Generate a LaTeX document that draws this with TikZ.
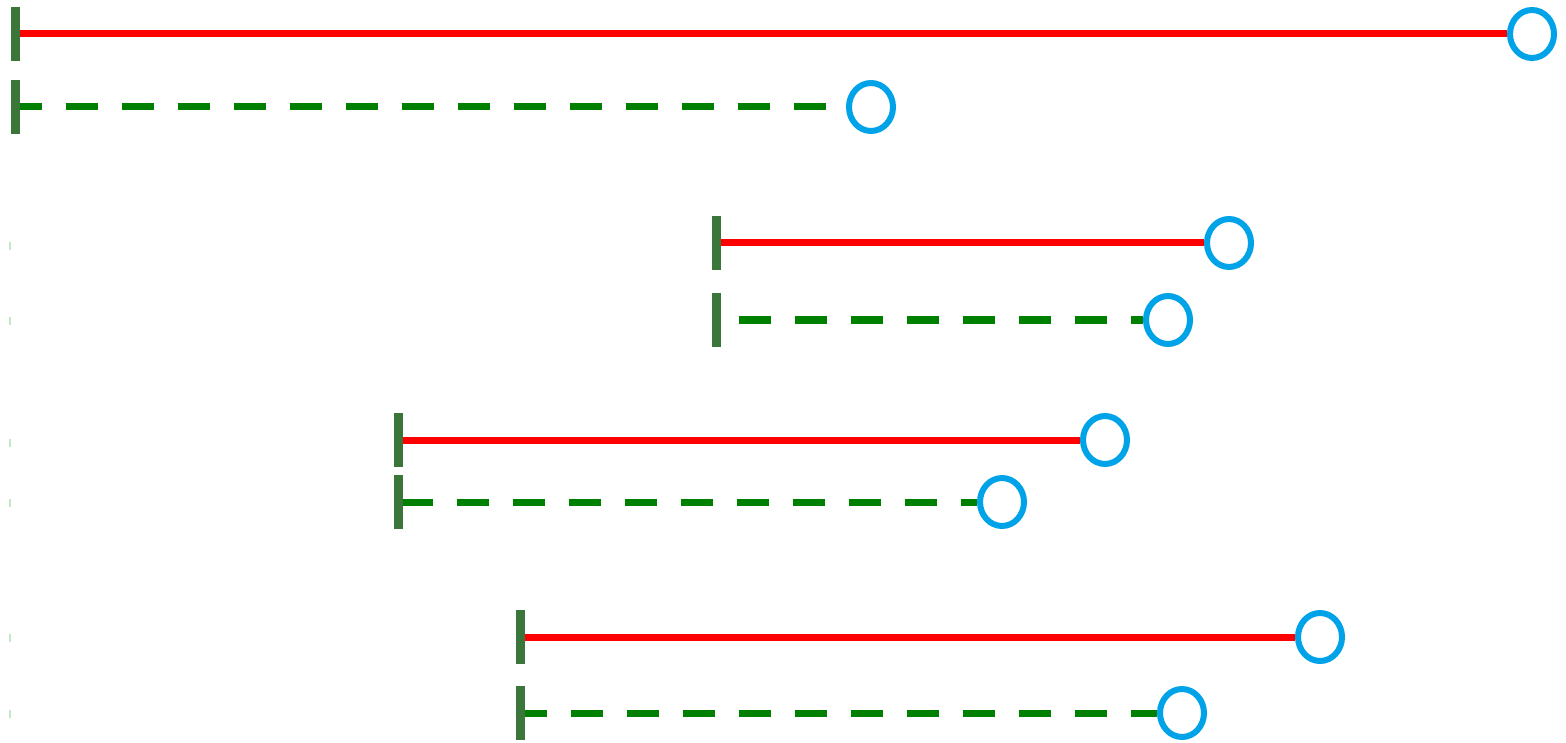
\documentclass[tikz,border=0pt]{standalone}
\usetikzlibrary{shapes.geometric}
\definecolor{barGreen}{RGB}{58,118,58}
\definecolor{ringBlue}{RGB}{0,162,232}
\definecolor{dashGreen}{RGB}{0,128,0}
\definecolor{tickGreen}{RGB}{196,232,196}
\begin{document}
\begin{tikzpicture}[x=1pt,y=-1pt]
\useasboundingbox (0,0) rectangle (1566,743);

\begin{scope}[every node/.style={rectangle,fill=barGreen,inner sep=0pt,minimum width=9pt,minimum height=54pt}]
	\node (s1) at (15, 34) {};
	\node (s2) at (15, 107) {};

	\node (s3) at (716, 243) {};
	\node (s4) at (716, 320) {};

	\node (s5) at (398, 440) {};
	\node (s6) at (398, 502) {};

	\node (s7) at (520, 637) {};
	\node (s8) at (520, 713) {};
\end{scope}

\begin{scope}[every node/.style={rectangle,fill=tickGreen,inner sep=0pt,minimum width=2pt,minimum height=8pt}]
	\node (t3) at (10, 246) {};
	\node (t4) at (10, 321) {};
	\node (t5) at (10, 443) {};
	\node (t6) at (10, 503) {};
	\node (t7) at (10, 638) {};
	\node (t8) at (10, 714) {};
\end{scope}

\begin{scope}[every node/.style={ellipse,draw=ringBlue,line width=6pt,inner sep=0pt,minimum width=44pt,minimum height=48pt}]
	\node (e1) at (1532, 34) {};
	\node (e2) at (871, 107) {};

	\node (e3) at (1229, 243) {};
	\node (e4) at (1168, 320) {};

	\node (e5) at (1105, 440) {};
	\node (e6) at (1002, 502) {};

	\node (e7) at (1320, 637) {};
	\node (e8) at (1182, 713) {};
\end{scope}

\begin{scope}[style={line width=7pt},dash pattern=on 32pt off 24pt]
	\path [red,solid] (s1) edge node {} (e1);
	\path [dashGreen,dash phase=10pt] (s2) edge node {} (e2);

	\path [red,solid] (s3) edge node {} (e3);
	\path [dashGreen,dash phase=38pt] (s4) edge node {} (e4);

	\path [red,solid] (s5) edge node {} (e5);
	\path [dashGreen,dash phase=2pt] (s6) edge node {} (e6);

	\path [red,solid] (s7) edge node {} (e7);
	\path [dashGreen,dash phase=10pt] (s8) edge node {} (e8);
\end{scope}

\end{tikzpicture}
\end{document}
